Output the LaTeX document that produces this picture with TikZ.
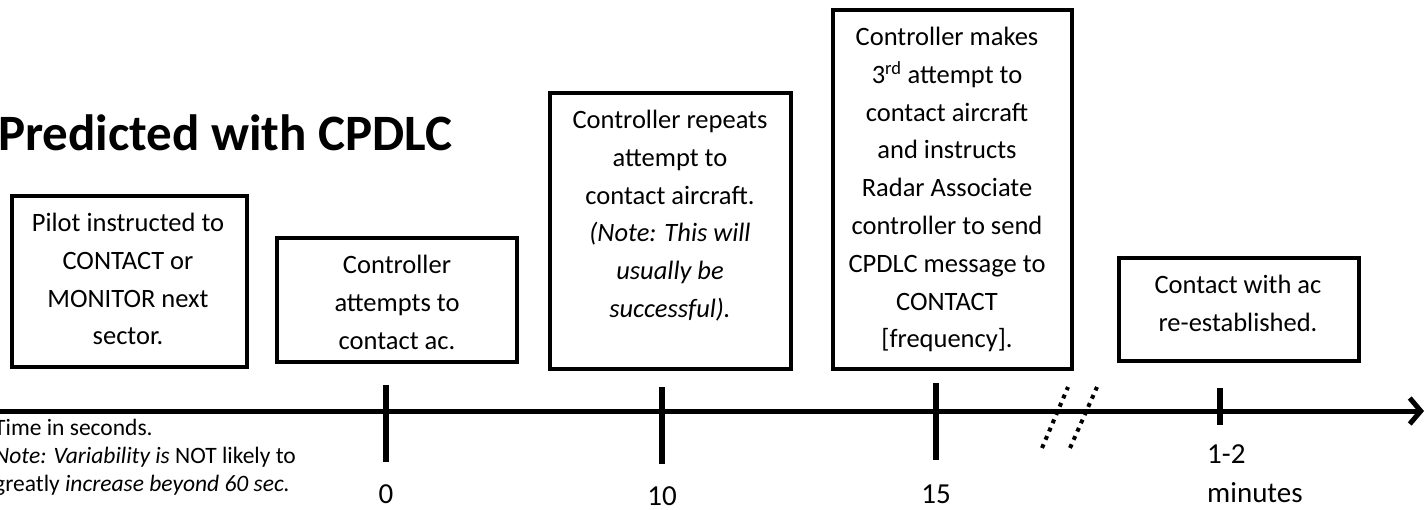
\documentclass[tikz,border=0pt]{standalone}
\usepackage{fontspec}
\setmainfont{Carlito}
\usetikzlibrary{arrows.meta}

\begin{document}
\begin{tikzpicture}[x=1pt,y=-1pt,
  stage/.style={draw, line width=4pt, inner sep=0pt, outer sep=0pt, anchor=north west},
  stagetext/.style={anchor=base, inner sep=0pt, font=\fontsize{26.5}{37.8}\selectfont},
  tickmark/.style={line width=5.5pt},
  ticklabel/.style={anchor=base, inner sep=0pt, font=\fontsize{29}{39}\selectfont},
  axisline/.style={line width=5pt, -{Straight Barb[length=11pt,width=26pt]}},
  breakmark/.style={line width=4pt, dash pattern=on 4pt off 5pt},
  notetext/.style={anchor=base west, inner sep=0pt, font=\fontsize{23.5}{28}\selectfont},
  titletext/.style={anchor=base west, inner sep=0pt, font=\fontsize{51}{56}\selectfont\bfseries}]

\useasboundingbox (0,0) rectangle (1427,509);

% title
\node[titletext] (title) at (-2,150) {Predicted with CPDLC};

% stage boxes
\node[stage, minimum width=235pt, minimum height=171pt] (b1) at (12,196) {};
\node[stage, minimum width=240pt, minimum height=124pt] (b2) at (277,238) {};
\node[stage, minimum width=241pt, minimum height=276pt] (b3) at (550,93) {};
\node[stage, minimum width=239pt, minimum height=359pt] (b4) at (833,10) {};
\node[stage, minimum width=240pt, minimum height=103pt] (b5) at (1119,258) {};

% stage texts, first baseline 35.5 below the box top
\node[stagetext] (t1) at (128,231.5) {\parbox[t]{235pt}{\centering Pilot instructed to\\CONTACT or\\MONITOR next\\sector.}};
\node[stagetext] (t2) at (397,273.5) {\parbox[t]{240pt}{\centering Controller\\attempts to\\contact ac.}};
\node[stagetext] (t3) at (670,128.5) {\parbox[t]{241pt}{\centering Controller repeats\\attempt to\\contact aircraft.\\\textit{(Note: This will}\\\textit{usually be}\\\textit{successful).}}};
\node[stagetext] (t4) at (947,45.5) {\parbox[t]{239pt}{\centering Controller makes\\3\textsuperscript{rd} attempt to\\contact aircraft\\and instructs\\Radar Associate\\controller to send\\CPDLC message to\\CONTACT\\{[}frequency{]}.}};
\node[stagetext] (t5) at (1238,293.5) {\parbox[t]{240pt}{\centering Contact with ac\\re-established.}};

% time axis
\coordinate (axL) at (0,411);
\coordinate (axR) at (1424,411);
\draw[axisline] (axL) -- (axR);

% ticks
\coordinate (k0a) at (386,385);  \coordinate (k0b) at (386,462);
\coordinate (k1a) at (662,387);  \coordinate (k1b) at (662,464);
\coordinate (k2a) at (936,383);  \coordinate (k2b) at (936,460);
\coordinate (k3a) at (1220,388); \coordinate (k3b) at (1220,425);
\draw[tickmark] (k0a) -- (k0b);
\draw[tickmark] (k1a) -- (k1b);
\draw[tickmark] (k2a) -- (k2b);
\draw[tickmark] (k3a) -- (k3b);

% axis break
\coordinate (s1a) at (1042,448); \coordinate (s1b) at (1068,387);
\coordinate (s2a) at (1070,448); \coordinate (s2b) at (1097,387);
\draw[breakmark] (s1a) -- (s1b);
\draw[breakmark] (s2a) -- (s2b);

% tick labels
\node[ticklabel] (l0) at (386,503) {0};
\node[ticklabel] (l1) at (662,505) {10};
\node[ticklabel] (l2) at (936,503) {15};
\node[ticklabel, anchor=base west] (l3) at (1207,463) {\parbox[t]{120pt}{\raggedright 1-2\\minutes}};

% notes
\node[notetext] (note) at (-6,435) {\parbox[t]{340pt}{\raggedright Time in seconds.\\\textit{Note: Variability is} NOT likely to\\greatly \textit{increase beyond 60 sec.}}};

\end{tikzpicture}
\end{document}
